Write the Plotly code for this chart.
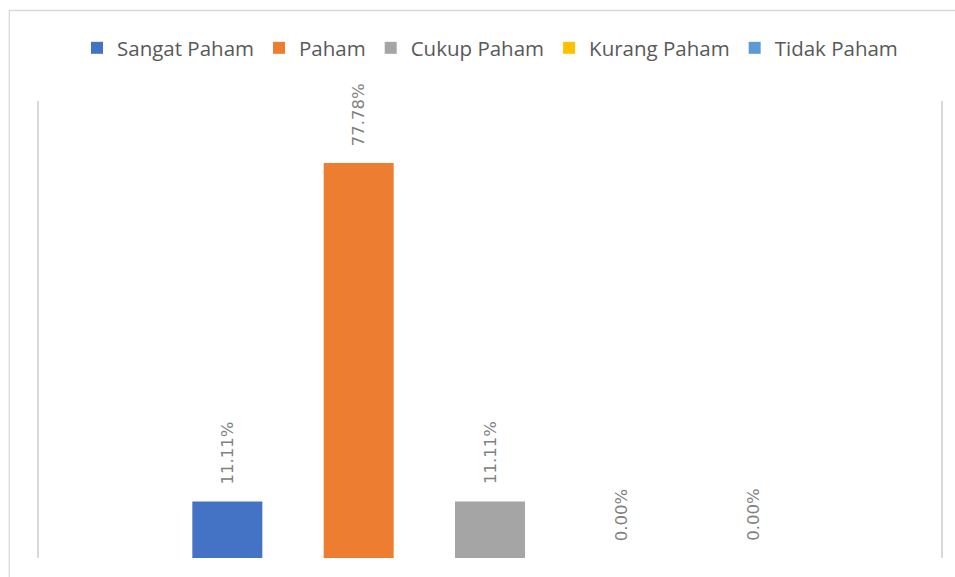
import plotly.graph_objects as go

categories = ["Sangat Paham", "Paham", "Cukup Paham", "Kurang Paham", "Tidak Paham"]
values = [11.11, 77.78, 11.11, 0.00, 0.00]
labels = ["11.11%", "77.78%", "11.11%", "0.00%", "0.00%"]
colors = ["#4472C4", "#ED7D31", "#A5A5A5", "#FFC000", "#5B9BD5"]

fig = go.Figure()
for cat, val, col in zip(categories, values, colors):
    fig.add_trace(go.Bar(x=[cat], y=[val], name=cat, marker=dict(color=col, line=dict(width=0)),
                         width=0.533, hoverinfo="skip"))

for cat, val, lab in zip(categories, values, labels):
    fig.add_annotation(x=cat, y=val, text=lab, textangle=-90, showarrow=False,
                       xanchor="center", yanchor="bottom", yshift=15,
                       font=dict(family="DejaVu Sans", size=16.5, color="#808080"))

W, H = 955, 577
ml, mr, mt, mb = 39, 14, 101, 19
pw, ph = W - ml - mr, H - mt - mb

def px_x(x):
    return (x - ml) / pw

def px_y(y):
    return (H - mb - y) / ph

fig.add_shape(type="rect", xref="paper", yref="paper",
              x0=px_x(9.3), x1=px_x(970), y0=px_y(590), y1=px_y(10.5),
              line=dict(color="#d9d9d9", width=1.3), fillcolor="rgba(0,0,0,0)", layer="below")

fig.update_layout(
    width=W, height=H,
    margin=dict(l=ml, r=mr, t=mt, b=mb),
    paper_bgcolor="white", plot_bgcolor="white",
    barmode="overlay",
    showlegend=True,
    hovermode=False,
    legend=dict(orientation="h", x=px_x(490), xanchor="center", y=px_y(48), yanchor="middle",
                font=dict(family="Open Sans", size=20.5, color="#595959"),
                itemclick=False, itemdoubleclick=False, bgcolor="rgba(0,0,0,0)"),
    xaxis=dict(type="category", categoryorder="array", categoryarray=categories,
               range=[-1.434, 5.434], showticklabels=False, showgrid=False,
               zeroline=False, showline=False, ticks=""),
    yaxis=dict(range=[0, 90], showticklabels=False, showgrid=False, zeroline=False,
               showline=True, mirror=True, linecolor="#d9d9d9", linewidth=2, ticks=""),
)

fig.write_html("out.html", config={"displayModeBar": False},
               post_script="document.body.style.margin='0';document.body.style.overflow='hidden';")
